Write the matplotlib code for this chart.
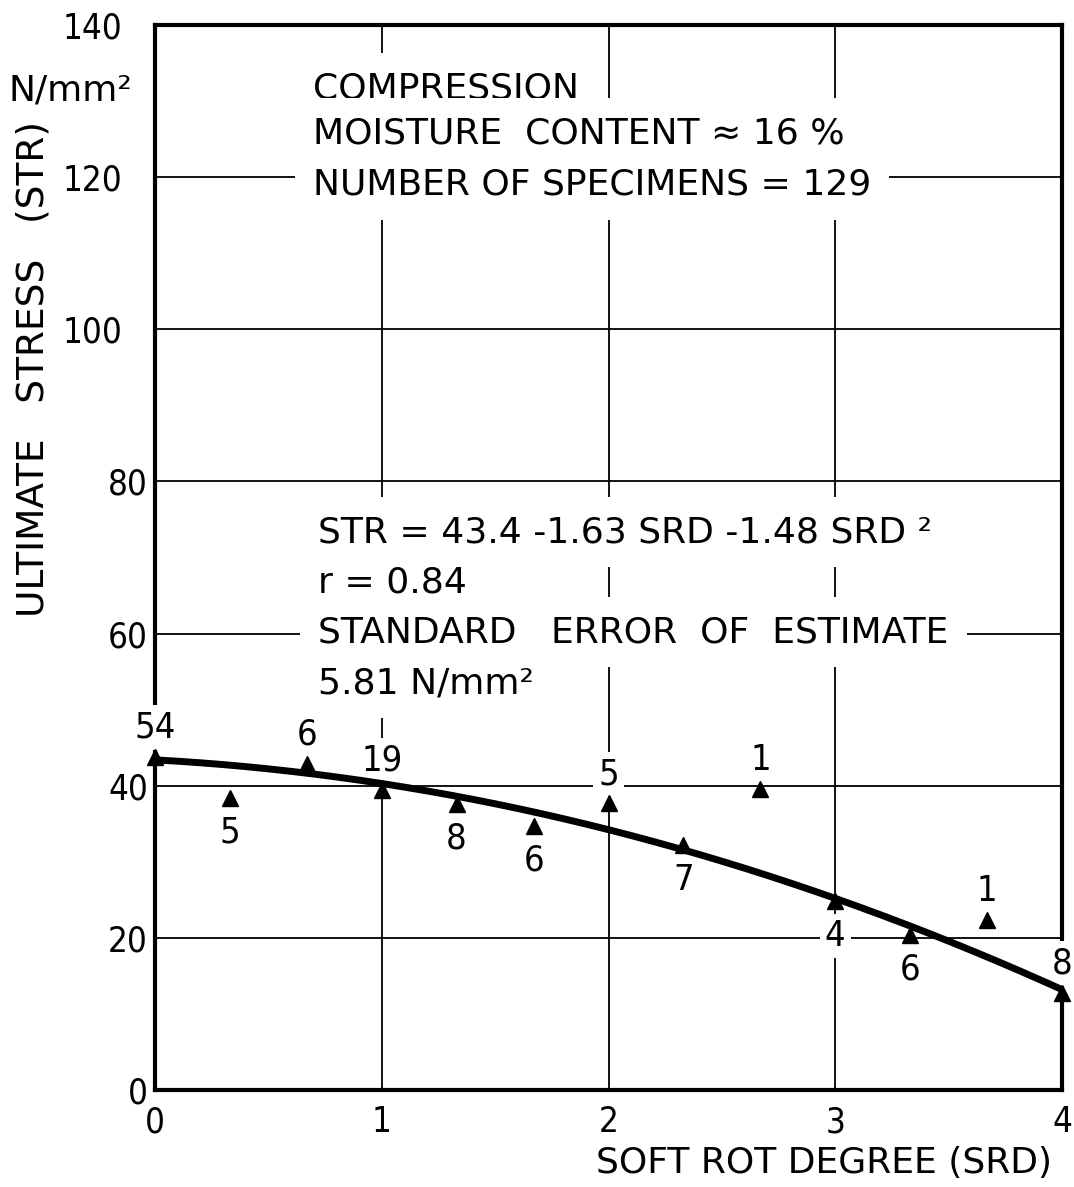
import numpy as np
import matplotlib
matplotlib.use("Agg")
import matplotlib.pyplot as plt
from matplotlib.transforms import ScaledTranslation

plt.rcParams['font.family'] = ['DejaVu Sans']
plt.rcParams['font.stretch'] = 'condensed'

# soft rot degree classes and mean ultimate stress (N/mm2)
srd = [0, 0.33, 0.67, 1.0, 1.33, 1.67, 2.0, 2.33, 2.67, 3.0, 3.33, 3.67, 4.0]
stress = [43.8, 38.4, 42.9, 39.5, 37.6, 34.7, 37.7, 32.2, 39.6, 24.8, 20.4, 22.3, 12.8]
counts = ['54', '5', '6', '19', '8', '6', '5', '7', '1', '4', '6', '1', '8']
label_side = ['up', 'down', 'up', 'up', 'down', 'down', 'up', 'down', 'up', 'down', 'down', 'up', 'up']

# regression STR = a + b*SRD + c*SRD^2 as printed on the chart
coef_a, coef_b, coef_c = 43.4, -1.63, -1.48

xticks = [0, 1, 2, 3, 4]
yticks = [0, 20, 40, 60, 80, 100, 120, 140]

FS = 25
TFS = 26
white = dict(boxstyle='square,pad=0.5', fc='white', ec='none')

fig = plt.figure(figsize=(10.74, 11.87), dpi=100)
ax = fig.add_axes([155 / 1074, 97 / 1187, (1062 - 155) / 1074, (1090 - 25) / 1187])

ax.set_xlim(0, 4)
ax.set_ylim(0, 140)
ax.set_xticks(xticks)
ax.set_yticks(yticks)
ax.tick_params(length=0, labelsize=FS)
ax.tick_params(axis='x', pad=11)
ax.tick_params(axis='y', pad=5)
ax.grid(True, color='black', lw=1.3, zorder=0.5)
ax.set_axisbelow(True)
for s in ax.spines.values():
    s.set_linewidth(3)
    s.set_zorder(2.5)

# the three-digit labels sit further left in the original
for lbl in ax.get_yticklabels():
    if len(lbl.get_text()) == 3:
        lbl.set_transform(lbl.get_transform() + ScaledTranslation(-0.26, 0, fig.dpi_scale_trans))

xs = np.linspace(0, 4, 200)
ax.plot(xs, coef_a + coef_b * xs + coef_c * xs ** 2, color='black', lw=5,
        solid_capstyle='butt', zorder=2.6, clip_on=False)
ax.plot(srd, stress, '^', color='black', ms=11, zorder=2.7, clip_on=False)

for x, y, c, side in zip(srd, stress, counts, label_side):
    off = 21 if side == 'up' else -25
    ax.annotate(c, (x, y), xytext=(0, off), textcoords='offset points',
                ha='center', va='center', fontsize=FS + 1, zorder=2.55,
                bbox=dict(boxstyle='square,pad=0.15', fc='white', ec='none'))

top_lines = ['COMPRESSION', 'MOISTURE  CONTENT \u2248 16 %', 'NUMBER OF SPECIMENS = 129']
top_y = [131.7, 125.8, 119.0]
for t, y in zip(top_lines, top_y):
    ax.text(0.697, y, t, fontsize=TFS, fontstretch='normal', ha='left', va='center',
            zorder=3, bbox=white)

fit_lines = ['STR = 43.4 -1.63 SRD -1.48 SRD \u00b2', 'r = 0.84',
             'STANDARD   ERROR  OF  ESTIMATE', '5.81 N/mm\u00b2']
fit_y = [73.3, 66.7, 60.2, 53.5]
for t, y in zip(fit_lines, fit_y):
    ax.text(0.72, y, t, fontsize=TFS, fontstretch='normal', ha='left', va='center',
            zorder=3, bbox=white)

fig.text(132 / 1074, 1 - 90 / 1187, 'N/mm\u00b2', fontsize=TFS, fontstretch='normal',
         ha='right', va='center')
fig.text(34 / 1074, 1 - 369 / 1187, 'ULTIMATE   STRESS   (STR)', fontsize=27,
         fontstretch='normal', rotation=90, ha='center', va='center')
fig.text(1052 / 1074, 1 - 1163 / 1187, 'SOFT ROT DEGREE (SRD)', fontsize=TFS,
         fontstretch='normal', ha='right', va='center')

fig.savefig('out.png', dpi=100)
